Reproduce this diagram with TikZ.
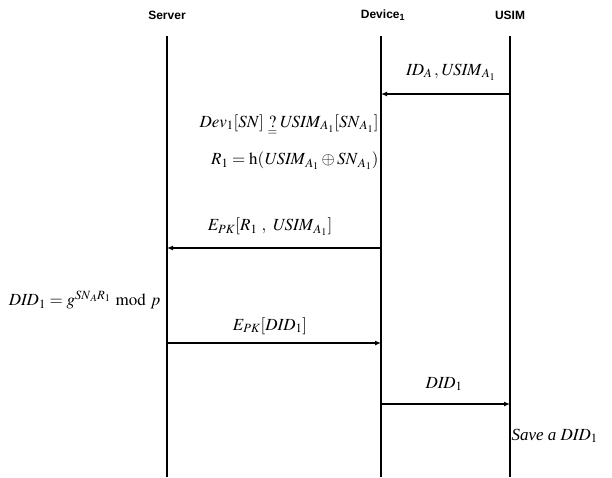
\documentclass[tikz,border=0pt]{standalone}
\usepackage{amsmath}
\usepackage{mathptmx}
\usepackage[no-math]{fontspec}
\setmainfont{Liberation Serif}
\newfontfamily\headfont{Liberation Sans}
\usetikzlibrary{arrows.meta}

\tikzset{
  head/.style={font=\headfont\bfseries\fontsize{12}{14}\selectfont},
  msglabel/.style={font=\fontsize{17}{20}\selectfont},
  msg/.style={line width=1.8pt,-{Latex[length=6pt,width=5pt]}}
}

\begin{document}
\begin{tikzpicture}[x=1pt,y=-1pt,line cap=butt]
  \useasboundingbox (0,0) rectangle (612,477);
  % 三方标题与生命线
  \foreach \x/\name/\txt in {167/srv/Server, 383/dev/Device\textsubscript{1}, 510/usim/USIM} {
    \node[head] (\name) at (\x,15) {\txt};
  }
  \foreach \name/\x in {srv/167, dev/381, usim/510} {
    \draw[line width=1.4pt] (\x,36) -- (\x,477);
    \coordinate (\name-a) at (\x,94);
    \coordinate (\name-b) at (\x,248);
    \coordinate (\name-c) at (\x,343);
    \coordinate (\name-d) at (\x,404);
  }
  % USIM -> Device
  \draw[msg] (usim-a) -- (dev-a);
  \node[msglabel] (lab-a) at (451,72) {$\mathit{ID}_{A}\,,\mathit{USIM}_{A_1}$};
  % Device 端校验
  \node[msglabel,anchor=east] (chk) at (382,127)
    {$\mathit{Dev}_1[\mathit{SN}]\,\mathop{?}\limits_{\raisebox{2pt}{$\scriptstyle=$}}\mathit{USIM}_{A_1}[\mathit{SN}_{A_1}]$};
  \node[msglabel,anchor=east] (hash) at (382,161)
    {$R_1=\mathrm{h}(\mathit{USIM}_{A_1}\oplus \mathit{SN}_{A_1})$};
  % Device -> Server
  \draw[msg] (dev-b) -- (srv-b);
  \node[msglabel] (lab-b) at (270,227) {$E_{\mathit{PK}}[R_1\ ,\ \mathit{USIM}_{A_1}]$};
  % Server 计算
  \node[msglabel,anchor=east] (did) at (164,300) {$\mathit{DID}_1=g^{\mathit{SN}_A R_1}\bmod p$};
  % Server -> Device
  \draw[msg] (srv-c) -- (dev-c);
  \node[msglabel] (lab-c) at (270,326) {$E_{\mathit{PK}}[\mathit{DID}_1]$};
  % Device -> USIM
  \draw[msg] (dev-d) -- (usim-d);
  \node[msglabel] (lab-d) at (444,384) {$\mathit{DID}_1$};
  \node[msglabel,anchor=west] (save) at (508,436) {\textit{Save a} $\mathit{DID}_1$};
\end{tikzpicture}
\end{document}
